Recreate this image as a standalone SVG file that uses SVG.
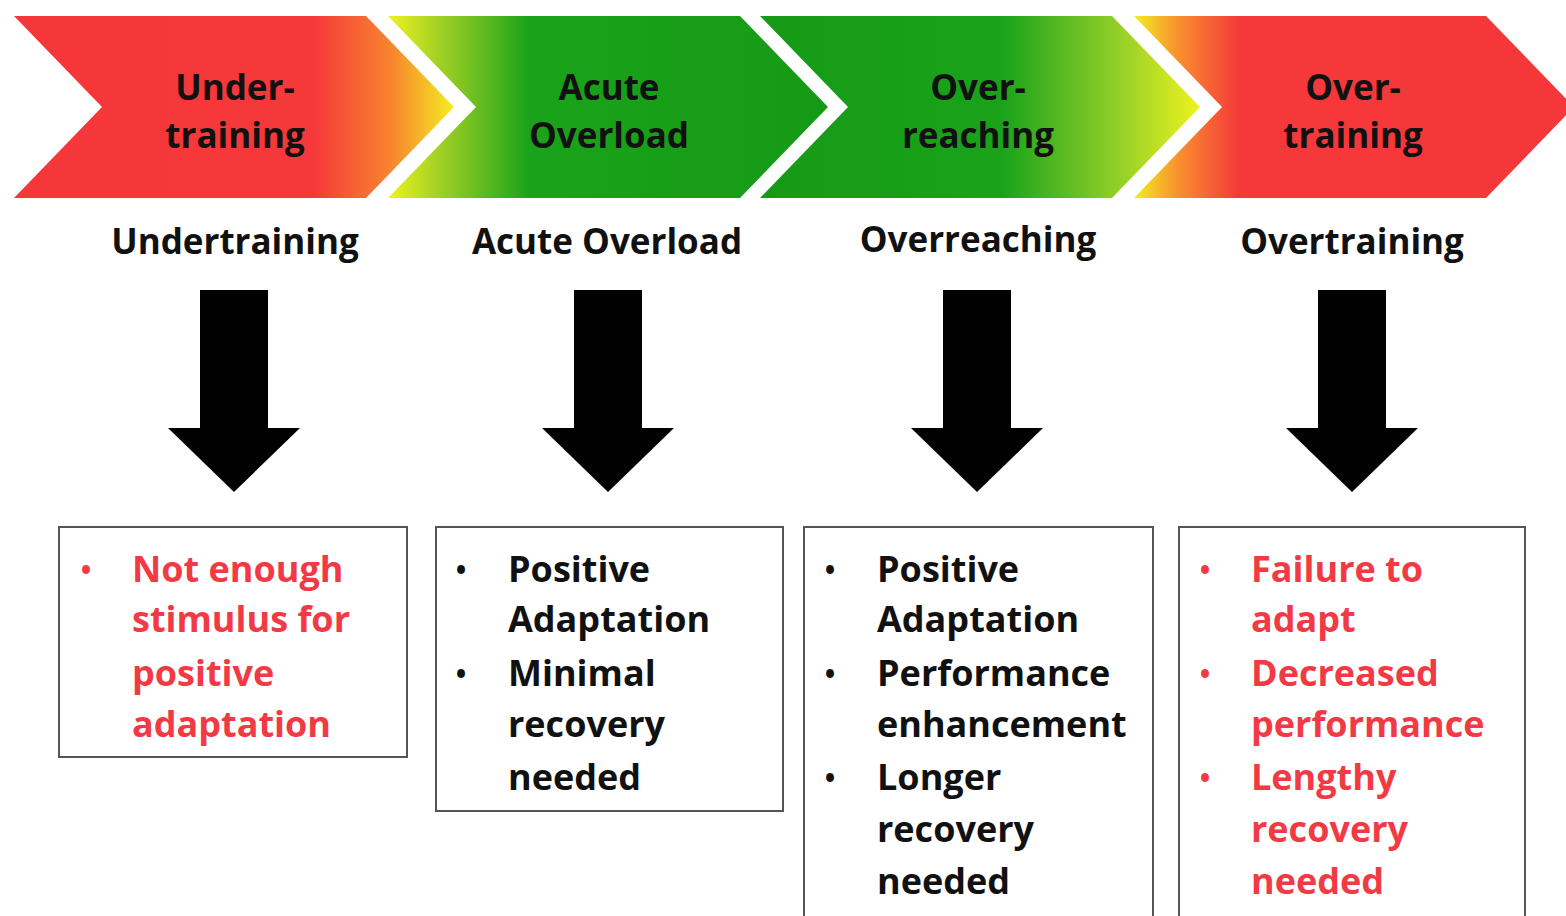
<svg xmlns="http://www.w3.org/2000/svg" width="1566" height="916" viewBox="0 0 1566 916">
<defs>
<linearGradient id="g1" gradientUnits="userSpaceOnUse" x1="14" y1="0" x2="454" y2="0">
<stop offset="0" stop-color="#f5373a"/><stop offset="0.68" stop-color="#f5383a"/><stop offset="0.86" stop-color="#f8862e"/><stop offset="1" stop-color="#f2ee22"/>
</linearGradient>
<linearGradient id="g2" gradientUnits="userSpaceOnUse" x1="388" y1="0" x2="828" y2="0">
<stop offset="0" stop-color="#eef21f"/><stop offset="0.12" stop-color="#9fd025"/><stop offset="0.32" stop-color="#1aa31a"/><stop offset="1" stop-color="#169a16"/>
</linearGradient>
<linearGradient id="g3" gradientUnits="userSpaceOnUse" x1="760" y1="0" x2="1200" y2="0">
<stop offset="0" stop-color="#169a16"/><stop offset="0.55" stop-color="#1aa31a"/><stop offset="0.8" stop-color="#8ccd28"/><stop offset="1" stop-color="#eef21f"/>
</linearGradient>
<linearGradient id="g4" gradientUnits="userSpaceOnUse" x1="1134" y1="0" x2="1574" y2="0">
<stop offset="0" stop-color="#f2ee22"/><stop offset="0.1" stop-color="#f8902e"/><stop offset="0.24" stop-color="#f5383a"/><stop offset="1" stop-color="#f5373a"/>
</linearGradient>
<path id="arrow" d="M-34,0 H34 V138 H66 L0,202 L-66,138 H-34 Z"/>
</defs>
<style>
.ch{font-family:"Open Sans","Liberation Sans",sans-serif;font-weight:700;font-size:35px;fill:#111;text-anchor:middle}
.sub{font-family:"Open Sans","Liberation Sans",sans-serif;font-weight:700;font-size:35px;fill:#111;text-anchor:middle}
.box{fill:#fff;stroke:#555;stroke-width:2}
.t{font-family:"Open Sans","Liberation Sans",sans-serif;font-weight:700;font-size:36px;fill:#111}
.b{font-family:"Open Sans","Liberation Sans",sans-serif;font-weight:700;font-size:28px;fill:#111;text-anchor:middle}
.r{fill:#f23a45}
.arr{fill:#000}
</style>
<rect width="1566" height="916" fill="#fff"/>

<g id="chevron-undertraining">
<path d="M14,16 H366 L454,107 L366,198 H14 L102,107 Z" fill="url(#g1)"/>
<text class="ch" x="235" y="100">Under-</text>
<text class="ch" x="235" y="148">training</text>
</g>
<g id="chevron-acute-overload">
<path d="M388,16 H740 L828,107 L740,198 H388 L476,107 Z" fill="url(#g2)"/>
<text class="ch" x="609" y="100">Acute</text>
<text class="ch" x="609" y="148">Overload</text>
</g>
<g id="chevron-overreaching">
<path d="M760,16 H1112 L1200,107 L1112,198 H760 L848,107 Z" fill="url(#g3)"/>
<text class="ch" x="978" y="100">Over-</text>
<text class="ch" x="978" y="148">reaching</text>
</g>
<g id="chevron-overtraining">
<path d="M1134,16 H1486 L1574,107 L1486,198 H1134 L1222,107 Z" fill="url(#g4)"/>
<text class="ch" x="1353" y="100">Over-</text>
<text class="ch" x="1353" y="148">training</text>
</g>

<g id="labels">
<text class="sub" x="235" y="254">Undertraining</text>
<text class="sub" x="607" y="254">Acute Overload</text>
<text class="sub" x="978" y="252">Overreaching</text>
<text class="sub" x="1352" y="254">Overtraining</text>
</g>

<g id="connectors">
<use href="#arrow" class="arr" x="234" y="290"/>
<use href="#arrow" class="arr" x="608" y="290"/>
<use href="#arrow" class="arr" x="977" y="290"/>
<use href="#arrow" class="arr" x="1352" y="290"/>
</g>

<g id="box-undertraining">
<rect class="box" x="59" y="527" width="348" height="230"/>
<text class="b r" x="86" y="580">•</text>
<text class="t r" x="132" y="582">Not enough</text>
<text class="t r" x="132" y="632">stimulus for</text>
<text class="t r" x="132" y="686">positive</text>
<text class="t r" x="132" y="737">adaptation</text>
</g>
<g id="box-acute-overload">
<rect class="box" x="436" y="527" width="347" height="284"/>
<text class="b" x="461" y="580">•</text>
<text class="t" x="508" y="582">Positive</text>
<text class="t" x="508" y="632">Adaptation</text>
<text class="b" x="461" y="684">•</text>
<text class="t" x="508" y="686">Minimal</text>
<text class="t" x="508" y="737">recovery</text>
<text class="t" x="508" y="790">needed</text>
</g>
<g id="box-overreaching">
<rect class="box" x="804" y="527" width="349" height="400"/>
<text class="b" x="830" y="580">•</text>
<text class="t" x="877" y="582">Positive</text>
<text class="t" x="877" y="632">Adaptation</text>
<text class="b" x="830" y="684">•</text>
<text class="t" x="877" y="686">Performance</text>
<text class="t" x="877" y="737">enhancement</text>
<text class="b" x="830" y="788">•</text>
<text class="t" x="877" y="790">Longer</text>
<text class="t" x="877" y="842">recovery</text>
<text class="t" x="877" y="894">needed</text>
</g>
<g id="box-overtraining">
<rect class="box" x="1179" y="527" width="346" height="400"/>
<text class="b r" x="1205" y="580">•</text>
<text class="t r" x="1251" y="582">Failure to</text>
<text class="t r" x="1251" y="632">adapt</text>
<text class="b r" x="1205" y="684">•</text>
<text class="t r" x="1251" y="686">Decreased</text>
<text class="t r" x="1251" y="737">performance</text>
<text class="b r" x="1205" y="788">•</text>
<text class="t r" x="1251" y="790">Lengthy</text>
<text class="t r" x="1251" y="842">recovery</text>
<text class="t r" x="1251" y="894">needed</text>
</g>
</svg>
